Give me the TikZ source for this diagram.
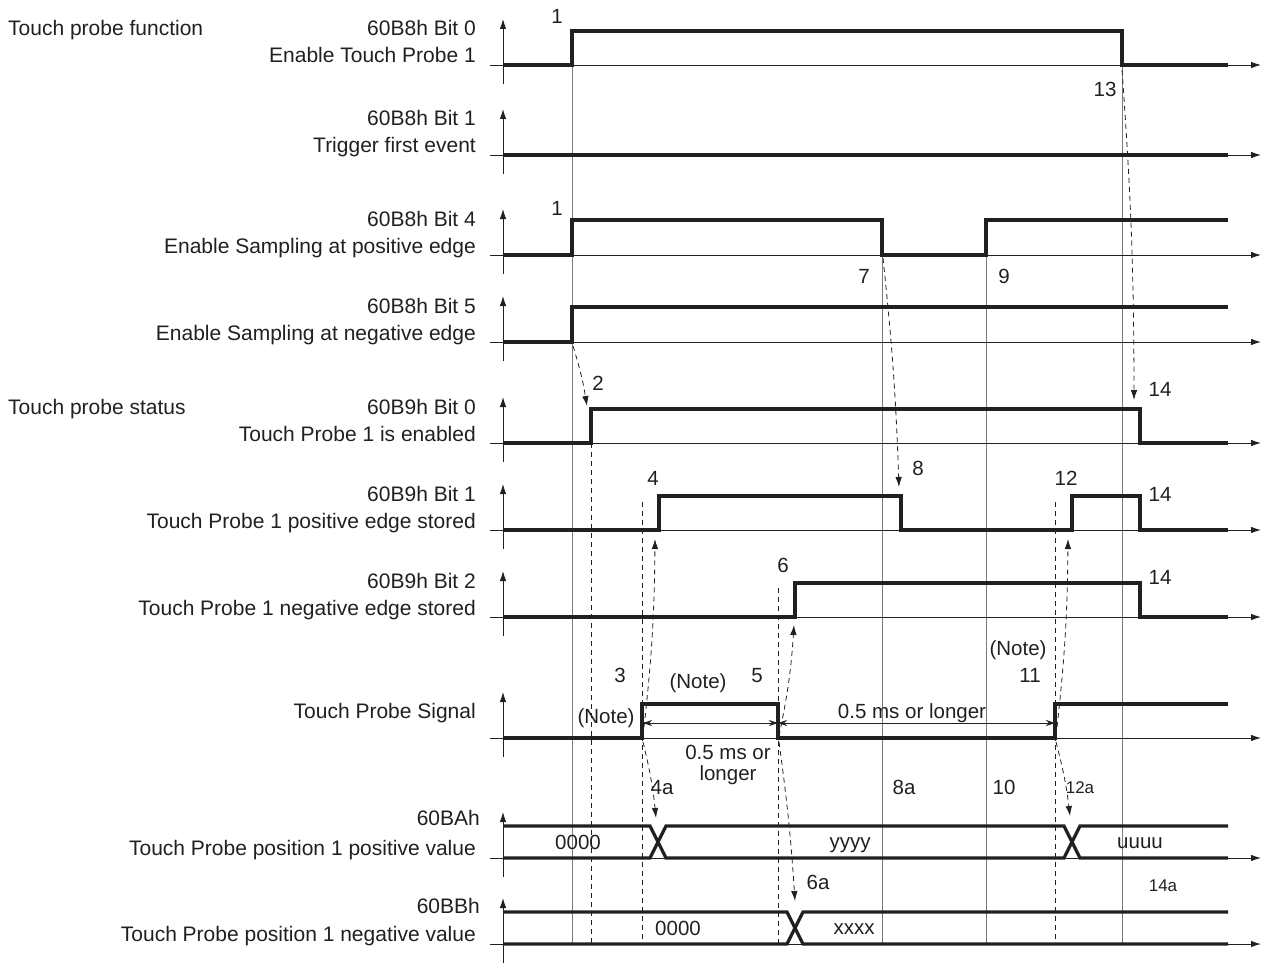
\documentclass[tikz,border=0pt]{standalone}
\usepackage{fontspec}
\setmainfont{Liberation Sans}
\usetikzlibrary{arrows.meta}
\definecolor{ink}{HTML}{231F20}
\definecolor{gridgray}{HTML}{7A7A7A}
\begin{document}
\begin{tikzpicture}[x=1pt,y=-1pt,
  sig/.style={line width=3.2pt, draw=ink, line join=miter, line cap=butt},
  ax/.style={line width=0.9pt, draw=ink, -{Latex[length=10pt,width=6.5pt]}},
  grd/.style={line width=0.9pt, draw=gridgray},
  dsh/.style={line width=0.8pt, draw=ink, dash pattern=on 5pt off 4pt},
  darr/.style={dsh, -{Latex[length=10pt,width=6.5pt]}},
  dim/.style={line width=0.8pt, draw=ink, {Stealth[length=9pt,width=6pt]}-{Stealth[length=9pt,width=6pt]}},
  lab/.style={anchor=base east, inner sep=0pt, text=ink, font=\fontsize{21}{24}\selectfont},
  lft/.style={anchor=base west, inner sep=0pt, text=ink, font=\fontsize{21}{24}\selectfont},
  txt/.style={anchor=base, inner sep=0pt, text=ink, font=\fontsize{20.5}{24}\selectfont},
  sml/.style={anchor=base, inner sep=0pt, text=ink, font=\fontsize{17}{20}\selectfont},
]
\useasboundingbox (0,0) rectangle (1263,963);

% grid lines (solid gray)
\draw[grd] (572,65) -- (572,944);
\draw[grd] (882,255) -- (882,944);
\draw[grd] (986,255) -- (986,944);
\draw[grd] (1122,65) -- (1122,944);

% dashed verticals
\draw[dsh] (591,443) -- (591,944);
\draw[dsh] (642,502) -- (642,944);
\draw[dsh] (778,588) -- (778,944);
\draw[dsh] (1055,502) -- (1055,944);

% axes
\foreach \yb in {65,155,255,342,443,530,617,738,858,944}{
  \draw[ax] (490,\yb) -- (1261,\yb);
  \draw[ax] (503,\yb+19) -- (503,\yb-46);
}

% signals
\draw[sig] (503,65) -- (572,65) -- (572,31) -- (1122,31) -- (1122,65) -- (1228,65);
\draw[sig] (503,155) -- (1228,155);
\draw[sig] (503,255) -- (572,255) -- (572,220) -- (882,220) -- (882,255) -- (986,255) -- (986,220) -- (1228,220);
\draw[sig] (503,342) -- (572,342) -- (572,307) -- (1228,307);
\draw[sig] (503,443) -- (591,443) -- (591,409) -- (1140,409) -- (1140,443) -- (1228,443);
\draw[sig] (503,530) -- (659,530) -- (659,496) -- (901,496) -- (901,530) -- (1072,530) -- (1072,496) -- (1140,496) -- (1140,530) -- (1228,530);
\draw[sig] (503,617) -- (795,617) -- (795,583) -- (1140,583) -- (1140,617) -- (1228,617);
\draw[sig] (503,738) -- (642,738) -- (642,704) -- (778,704) -- (778,738) -- (1055,738) -- (1055,704) -- (1228,704);
% bus rows
\draw[sig] (503,826) -- (650,826) -- (666,858) -- (1064,858) -- (1080,826) -- (1228,826);
\draw[sig] (503,858) -- (650,858) -- (666,826) -- (1064,826) -- (1080,858) -- (1228,858);
\draw[sig] (503,912) -- (787,912) -- (803,944) -- (1228,944);
\draw[sig] (503,944) -- (787,944) -- (803,912) -- (1228,912);

% dimension arrows
\draw[dim] (643,723) -- (778,723);
\draw[dim] (778,723) -- (1055,723);

% dashed cause-effect arrows
\draw[darr] (573,346) to[bend left=4] (587,406);
\draw[darr] (1122,70) to[bend left=2] (1134,400);
\draw[darr] (883,258) to[bend left=2] (899,487);
\draw[darr] (643,736) to[bend right=3] (655,539);
\draw[darr] (779,736) to[bend right=4] (794,625);
\draw[darr] (1056,736) to[bend right=3] (1068,539);
\draw[darr] (643,742) to[bend left=4] (656,818);
\draw[darr] (779,742) to[bend left=2] (795,901);
\draw[darr] (1056,742) to[bend left=4] (1070,816);

% left labels
\node[lft] (hdrA) at (8,36) {Touch probe function};
\node[lft] (hdrB) at (8,414) {Touch probe status};
\node[lab] (l1a) at (476,36) {60B8h Bit 0};
\node[lab] (l1b) at (476,63) {Enable Touch Probe 1};
\node[lab] (l2a) at (476,126) {60B8h Bit 1};
\node[lab] (l2b) at (476,153) {Trigger first event};
\node[lab] (l3a) at (476,226) {60B8h Bit 4};
\node[lab] (l3b) at (476,253) {Enable Sampling at positive edge};
\node[lab] (l4a) at (476,313) {60B8h Bit 5};
\node[lab] (l4b) at (476,340) {Enable Sampling at negative edge};
\node[lab] (l5a) at (476,414) {60B9h Bit 0};
\node[lab] (l5b) at (476,441) {Touch Probe 1 is enabled};
\node[lab] (l6a) at (476,501) {60B9h Bit 1};
\node[lab] (l6b) at (476,528) {Touch Probe 1 positive edge stored};
\node[lab] (l7a) at (476,588) {60B9h Bit 2};
\node[lab] (l7b) at (476,615) {Touch Probe 1 negative edge stored};
\node[lab] (l8) at (476,718) {Touch Probe Signal};
\node[lab] (l9a) at (480,825) {60BAh};
\node[lab] (l9b) at (476,855) {Touch Probe position 1 positive value};
\node[lab] (l10a) at (480,913) {60BBh};
\node[lab] (l10b) at (476,941) {Touch Probe position 1 negative value};

% event numbers
\node[txt] (n1a) at (557,24) {1};
\node[txt] (n1b) at (557,215) {1};
\node[txt] (n13) at (1105,97) {13};
\node[txt] (n7) at (864,283) {7};
\node[txt] (n9) at (1004,283) {9};
\node[txt] (n2) at (598,390) {2};
\node[txt] (n14a) at (1160,396) {14};
\node[txt] (n14b) at (1160,501) {14};
\node[txt] (n14c) at (1160,584) {14};
\node[txt] (n8) at (918,475) {8};
\node[txt] (n4) at (653,485) {4};
\node[txt] (n12) at (1066,485) {12};
\node[txt] (n6) at (783,572) {6};
\node[txt] (note4) at (1018,655) {(Note)};
\node[txt] (n3) at (620,682) {3};
\node[txt] (note2) at (698,688) {(Note)};
\node[txt] (n5) at (757,682) {5};
\node[txt] (n11) at (1030,682) {11};
\node[txt] (note1) at (606,723) {(Note)};
\node[txt] (dimB) at (912,718) {0.5 ms or longer};
\node[txt] (dimA1) at (728,759) {0.5 ms or};
\node[txt] (dimA2) at (728,780) {longer};
\node[txt] (n4a) at (662,794) {4a};
\node[txt] (n8a) at (904,794) {8a};
\node[txt] (n10) at (1004,794) {10};
\node[sml] (n12a) at (1080,793) {12a};
\node[txt] (v1) at (578,849) {0000};
\node[txt] (v2) at (850,848) {yyyy};
\node[txt] (v3) at (1140,848) {uuuu};
\node[txt] (n6a) at (818,889) {6a};
\node[sml] (n14d) at (1163,891) {14a};
\node[txt] (v4) at (678,935) {0000};
\node[txt] (v5) at (854,934) {xxxx};
\end{tikzpicture}
\end{document}
